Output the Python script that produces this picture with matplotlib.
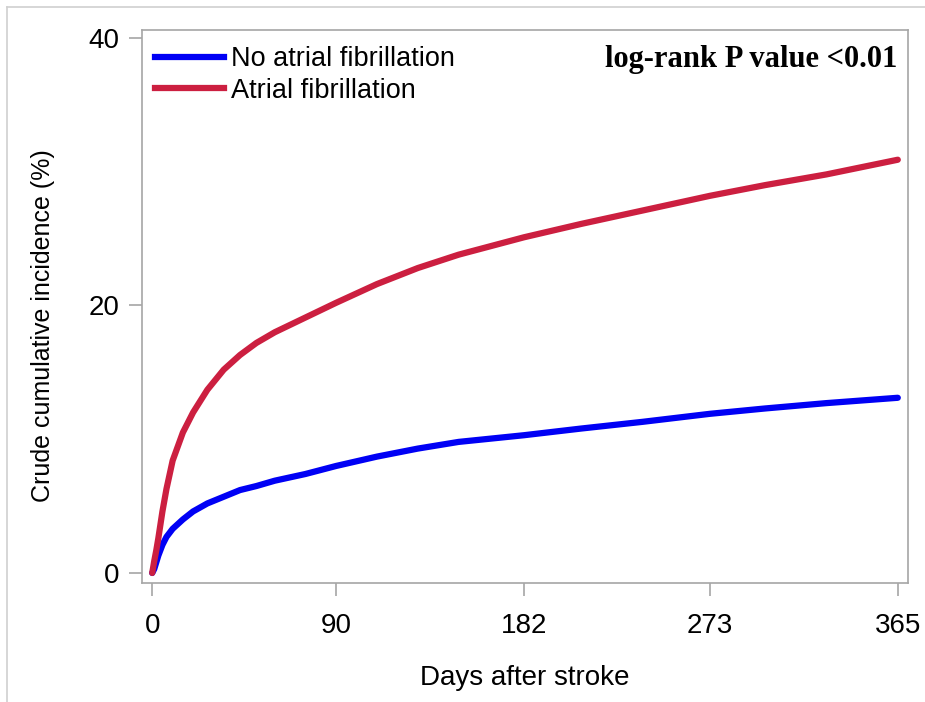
import matplotlib
matplotlib.use('Agg')
import matplotlib.pyplot as plt
from matplotlib.lines import Line2D

# values (days after stroke, cumulative incidence %)
days = [0, 1, 2, 3, 5, 7, 10, 15, 20, 27, 35, 43, 51, 60, 75, 90, 110, 130, 150,
        182, 210, 240, 273, 300, 330, 365]
no_af = [0, 0.3, 0.8, 1.3, 2.1, 2.7, 3.3, 4.0, 4.6, 5.2, 5.7, 6.2, 6.5, 6.9, 7.4,
         8.0, 8.7, 9.3, 9.8, 10.3, 10.8, 11.3, 11.9, 12.3, 12.7, 13.1]
af = [0, 0.9, 1.7, 2.6, 4.6, 6.3, 8.4, 10.5, 12.0, 13.7, 15.2, 16.3, 17.2, 18.0,
      19.1, 20.2, 21.6, 22.8, 23.8, 25.1, 26.1, 27.1, 28.2, 29.0, 29.8, 30.9]

series_labels = ['No atrial fibrillation', 'Atrial fibrillation']
x_ticks = [0, 90, 182, 273, 365]
y_ticks = [0, 20, 40]

plt.rcParams['font.family'] = ['Liberation Sans', 'DejaVu Sans']

fig = plt.figure(figsize=(9.25, 7.02), dpi=100)
ax = fig.add_axes([142 / 925, 1 - 583 / 702, (908 - 142) / 925, (583 - 30) / 702])

blue = '#0000F5'
red = '#CC1F40'
ax.plot(days, no_af, color=blue, lw=4.5, solid_capstyle='round', label=series_labels[0])
ax.plot(days, af, color=red, lw=4.5, solid_capstyle='round', label=series_labels[1])

ax.set_xlim(-5, 370)
ax.set_ylim(-0.75, 40.6)
ax.set_xticks(x_ticks)
ax.set_yticks(y_ticks)

frame_grey = '#A6A6A6'
for sp in ax.spines.values():
    sp.set_color(frame_grey)
    sp.set_linewidth(1.2)
ax.tick_params(axis='both', direction='out', length=9.5, width=1.2, color=frame_grey,
               labelsize=20, labelcolor='black')
ax.tick_params(axis='x', pad=12)
ax.tick_params(axis='y', pad=7)

ax.set_xlabel('Days after stroke', fontsize=20, labelpad=19)
ax.set_ylabel('Crude cumulative incidence (%)', fontsize=18)
ax.yaxis.set_label_coords(-0.113, 0.465)

handles = [Line2D([0], [0], color=blue, lw=4.5), Line2D([0], [0], color=red, lw=4.5)]
ax.legend(handles, series_labels, loc='upper left', frameon=False, fontsize=19.5,
          handlelength=2.55, handletextpad=0.26, labelspacing=0.2,
          borderaxespad=0.0, borderpad=0.35, bbox_to_anchor=(0.005, 0.988))

ax.text(0.986, 0.947, 'log-rank P value <0.01', transform=ax.transAxes,
        ha='right', va='center', fontsize=22, fontweight='bold',
        family='Liberation Serif')

# thin outer border of the original figure (cropped on the right and bottom)
fig.add_artist(Line2D([7 / 925, 7 / 925], [0, 1 - 7 / 702], color='#D0D0D0', lw=1.2))
fig.add_artist(Line2D([7 / 925, 1], [1 - 7 / 702, 1 - 7 / 702], color='#D0D0D0', lw=1.2))

fig.savefig('out.png', dpi=100)
